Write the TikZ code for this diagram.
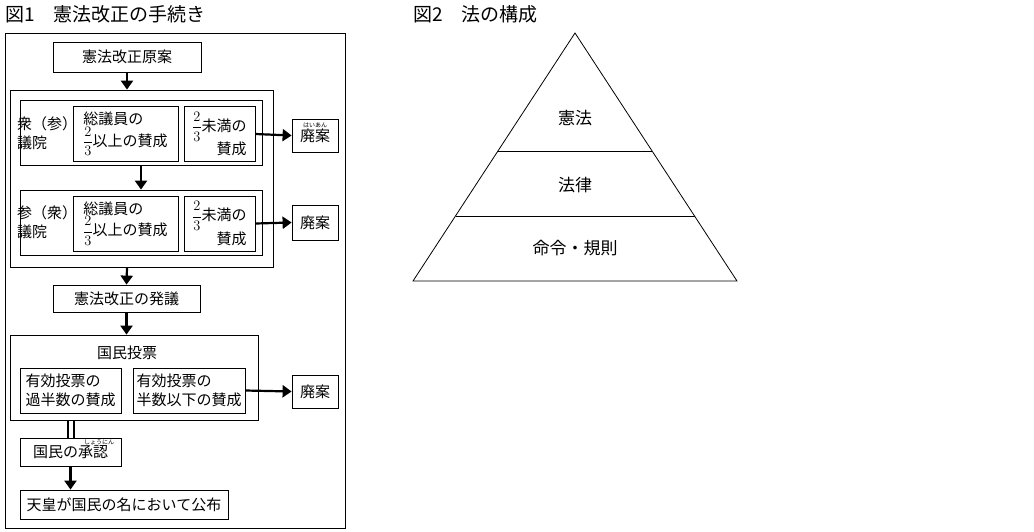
\documentclass[tikz,border=0pt]{standalone}
\usepackage{fontspec}
\setmainfont{Noto Sans CJK JP}
\usetikzlibrary{arrows.meta}
\tikzset{
  box/.style={draw,line width=0.8pt,inner sep=0pt},
  arr/.style={line width=2.2pt,-{Triangle[length=9pt,width=12pt]}},
  txt/.style={font=\fontsize{15}{19}\selectfont,inner sep=0pt},
  ruby/.style={font=\fontsize{6}{6}\selectfont,inner sep=0pt}
}
\newcommand{\ttfrac}{$\displaystyle\frac{2}{3}$}
\begin{document}
\begin{tikzpicture}[x=1pt,y=-1pt]
  \useasboundingbox (0,0) rectangle (1034,531);
  \node[txt,font=\fontsize{19}{22}\selectfont,anchor=west] (t1) at (5,14) {図1　憲法改正の手続き};
  \node[txt,font=\fontsize{19}{22}\selectfont,anchor=west] (t2) at (413,14) {図2　法の構成};
  % figure 1
  \node[box,minimum width=340pt,minimum height=495pt] (frame) at (175,280.5) {};
  \node[box,txt,minimum width=148pt,minimum height=30pt] (gen) at (127,57) {憲法改正原案};
  \node[box,minimum width=263pt,minimum height=177pt] (diet) at (141.5,178.5) {};
  \foreach \n/\y/\lab in {1/133/衆（参）\\議院, 2/222.5/参（衆）\\議院} {
    \node[box,minimum width=242pt,minimum height=65pt] (house\n) at (141,\y) {};
    \node[txt,align=left] (name\n) at (47,\y) {\lab};
    \node[box,txt,align=left,minimum width=105pt,minimum height=55pt] (yes\n) at (125.5,\y+1) {総議員の\\\ttfrac 以上の賛成};
    \node[box,txt,align=right,minimum width=71pt,minimum height=55pt] (no\n) at (219.5,\y+1) {\ttfrac 未満の\\賛成};
  }
  \node[box,txt,minimum width=46pt,minimum height=33pt] (hai1) at (315,135.5) {廃案};
  \node[ruby] (hai1r) at (315,125) {はいあん};
  \node[box,txt,minimum width=46pt,minimum height=35pt] (hai2) at (315,222.5) {廃案};
  \node[box,txt,minimum width=147pt,minimum height=27pt] (hatsu) at (126.5,298.5) {憲法改正の発議};
  \node[box,minimum width=248pt,minimum height=85pt] (vote) at (134,377.5) {};
  \node[txt] (votet) at (127,353) {国民投票};
  \node[box,txt,align=left,minimum width=101pt,minimum height=45pt] (vyes) at (70.5,390.5) {有効投票の\\過半数の賛成};
  \node[box,txt,align=left,minimum width=112pt,minimum height=45pt] (vno) at (189,390.5) {有効投票の\\半数以下の賛成};
  \node[box,txt,minimum width=46pt,minimum height=33pt] (hai3) at (315,391.5) {廃案};
  \node[box,txt,minimum width=101pt,minimum height=28pt] (shonin) at (70.5,452) {国民の承認};
  \node[ruby] (shoninr) at (99,442) {しょうにん};
  \node[box,txt,minimum width=208pt,minimum height=29pt] (koufu) at (124,504.5) {天皇が国民の名において公布};
  \draw[arr] (gen.south) -- (gen.south |- diet.north);
  \draw[arr] (house1.south) -- (house2.north);
  \draw[arr] (diet.south -| gen.south) -- (hatsu.north);
  \draw[arr] (hatsu.south) -- (hatsu.south |- vote.north);
  \draw[arr] (no1.east) -- (hai1.west);
  \draw[arr] (no2.east) -- (hai2.west);
  \draw[arr] (vno.east) -- (hai3.west);
  \draw[line width=2pt] ([xshift=-3pt]vote.south -| vyes.south) -- ([xshift=-3pt]shonin.north);
  \draw[line width=2pt] ([xshift=3pt]vote.south -| vyes.south) -- ([xshift=3pt]shonin.north);
  \draw[arr] (shonin.south) -- (shonin.south |- koufu.north);
  % figure 2
  \coordinate (apex) at (575,33);
  \coordinate (bl) at (413,281);
  \coordinate (br) at (737,281);
  \draw[line width=0.8pt] (apex) -- (bl) -- (br) -- cycle;
  \draw[line width=0.8pt] (498,151) -- (652,151);
  \draw[line width=0.8pt] (455.5,216) -- (694.5,216);
  \node[txt,font=\fontsize{17}{20}\selectfont] (kenpo) at (575,118) {憲法};
  \node[txt,font=\fontsize{17}{20}\selectfont] (horitsu) at (575,185) {法律};
  \node[txt,font=\fontsize{17}{20}\selectfont] (meirei) at (575,248) {命令・規則};
\end{tikzpicture}
\end{document}
